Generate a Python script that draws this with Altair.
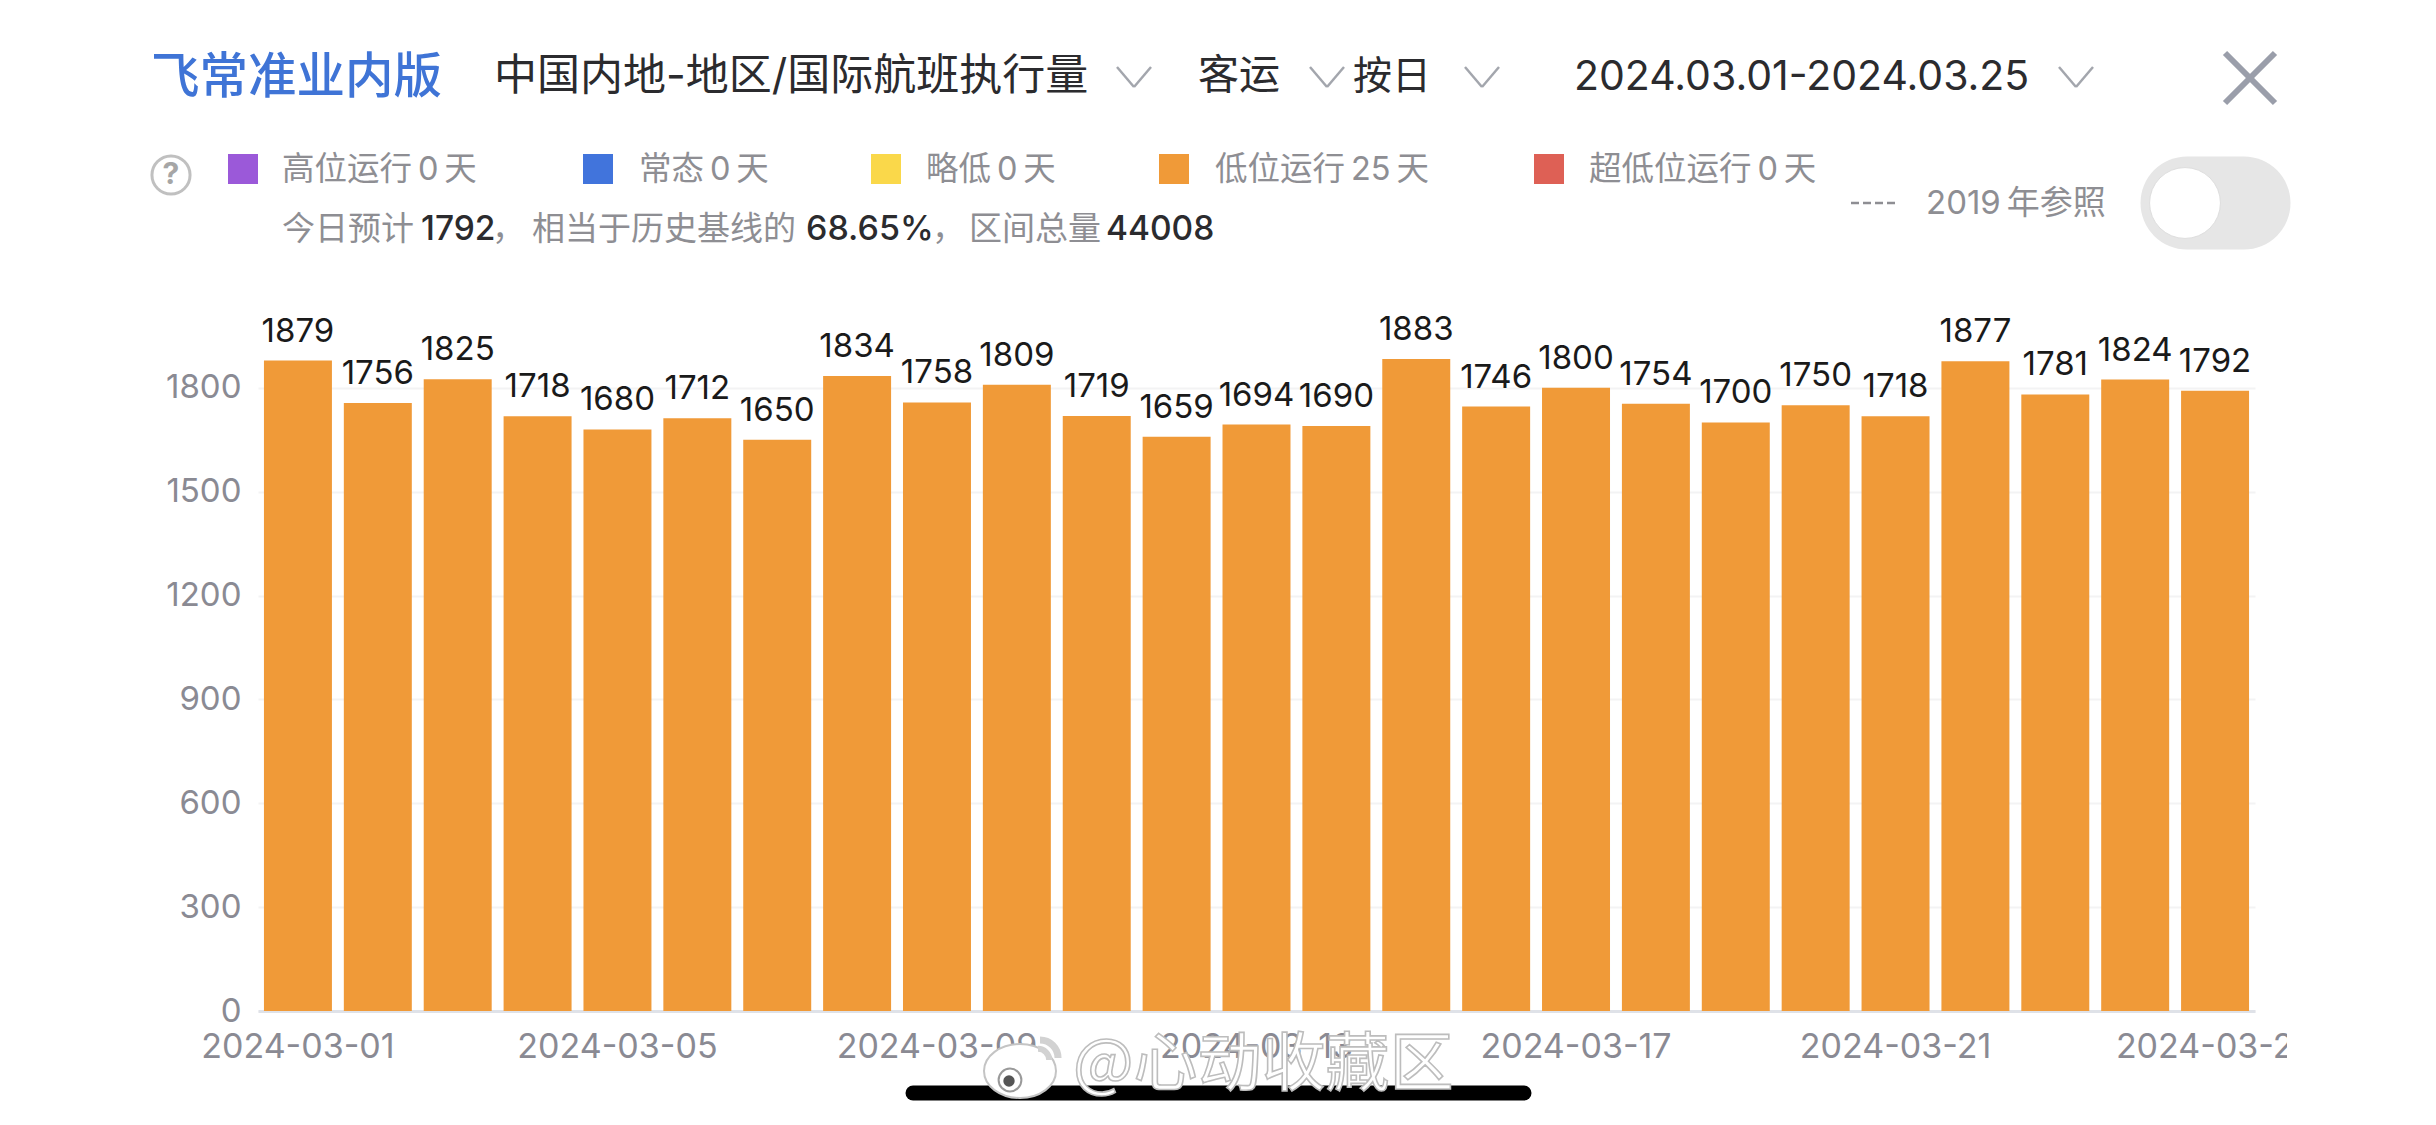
import altair as alt
import pandas as pd

# ---------- data ----------
dates = ["2024-03-%02d" % d for d in range(1, 26)]
flights = [1879, 1756, 1825, 1718, 1680, 1712, 1650, 1834, 1758, 1809, 1719, 1659, 1694,
           1690, 1883, 1746, 1800, 1754, 1700, 1750, 1718, 1877, 1781, 1824, 1792]
y_ticks = [0, 300, 600, 900, 1200, 1500, 1800]
x_ticks = ["2024-03-01", "2024-03-05", "2024-03-09", "2024-03-13", "2024-03-17", "2024-03-21", "2024-03-25"]
legend_names = ["高位运行\u20090\u2009天", "常态\u20090\u2009天", "略低\u20090\u2009天", "低位运行\u200925\u2009天", "超低位运行\u20090\u2009天"]
legend_colors = ["#9b59d9", "#4174dc", "#fad84a", "#f09a38", "#de6055"]
legend_box_x = [228, 583, 871, 1159, 1534]
legend_text_x = [282, 639, 926, 1215, 1589]

LEFT, TOP, W, H = 258, 284, 1997, 727
FONT = "Inter, Noto Sans CJK SC"
CJK = "Noto Sans CJK SC"
GREY = "#8e8e93"
DARK = "#2b2b2e"
one = alt.Data(values=[{"k": 1}])


def px(v):
    return alt.value(v - LEFT)


def py(v):
    return alt.value(v - TOP)


def label(text, x, y, size, color, font=FONT, **kw):
    return alt.Chart(one).mark_text(text=text, fontSize=size, color=color, font=font,
                                    align=kw.pop("align", "left"), baseline="middle", **kw
                                    ).encode(x=px(x), y=py(y))


def seg(x1, y1, x2, y2, color, width, **kw):
    return alt.Chart(one).mark_rule(color=color, strokeWidth=width, **kw).encode(
        x=px(x1), x2=px(x2), y=py(y1), y2=py(y2))


def dot(x, y, size, shape="circle", **kw):
    return alt.Chart(one).mark_point(shape=shape, size=size, **kw).encode(x=px(x), y=py(y))


df = pd.DataFrame({"date": dates, "flights": flights})

x_enc = alt.X("date:N", sort=dates, title=None,
              scale=alt.Scale(paddingInner=0.149, paddingOuter=0.0745),
              axis=alt.Axis(values=x_ticks, labelAngle=0, labelFontSize=34, labelFont=FONT,
                            labelColor="#8a8a93", labelPadding=19, ticks=False, labelLimit=400,
                            domainColor="#dfe2e8", domainWidth=3, grid=False, labelOverlap=False))
y_enc = alt.Y("flights:Q", title=None, scale=alt.Scale(domain=[0, 2100], nice=False),
              axis=alt.Axis(values=y_ticks, format="d", labelFontSize=33, labelFont=FONT, labelColor="#8a8a93",
                            labelPadding=17, ticks=False, domain=False, grid=True,
                            gridColor="#f3f3f4", gridWidth=2))

bars = alt.Chart(df).mark_bar(color="#f09a38").encode(x=x_enc, y=y_enc)
bar_text = alt.Chart(df).mark_text(baseline="bottom", dy=-12, fontSize=33, font=FONT, color="#1a1a1a").encode(
    x=alt.X("date:N", sort=dates), y=alt.Y("flights:Q"), text=alt.Text("flights:Q", format="d"))

layers = [bars, bar_text]

# hide the end of the last date label, as the page cuts it off
layers.append(alt.Chart(one).mark_rect(color="white").encode(x=px(2287), x2=px(2340), y=py(1020), y2=py(1070)))

# header
layers += [
    label("飞常准业内版", 151, 78, 48.5, "#3f74d6", font=CJK, fontWeight=500),
    label("中国内地-地区/国际航班执行量", 494, 77, 43, DARK),
    label("客运", 1198, 77, 41, DARK),
    label("按日", 1353, 77, 39, DARK),
    label("2024.03.01-2024.03.25", 1574, 78, 41, DARK),
]
for cx in [1134, 1327, 1482, 2076]:
    layers += [seg(cx - 17, 67, cx, 87, "#a3a6ad", 2.5), seg(cx, 87, cx + 17, 67, "#a3a6ad", 2.5)]
layers += [seg(2225, 53, 2275, 103, "#9a9eaa", 6), seg(2275, 53, 2225, 103, "#9a9eaa", 6)]

# legend row
layers += [dot(171, 175, 1452, filled=False, stroke="#a6a6a6", strokeWidth=3),
           label("?", 171, 175, 30, "#a6a6a6", align="center", fontWeight="bold")]
for name, color, bx, tx in zip(legend_names, legend_colors, legend_box_x, legend_text_x):
    layers.append(alt.Chart(one).mark_rect(color=color).encode(x=px(bx), x2=px(bx + 30), y=py(154), y2=py(184)))
    layers.append(label(name, tx, 170, 32.5, GREY))

# summary row
layers += [
    label("今日预计", 282, 230, 33, GREY),
    label("1792", 421, 230, 33.5, DARK, fontWeight=500),
    label("，", 492, 230, 33, GREY),
    label("相当于历史基线的", 532, 230, 33, GREY),
    label("68.65%", 806, 230, 34, DARK, fontWeight=500),
    label("，", 932, 230, 33, GREY),
    label("区间总量", 969, 230, 33, GREY),
    label("44008", 1106, 230, 33.5, DARK, fontWeight=500),
]

# 2019 reference + toggle
layers += [
    seg(1851, 203, 1895, 203, "#8e8e93", 2.5, strokeDash=[8, 4]),
    label("2019\u2009年参照", 1926, 204, 33, GREY),
    seg(2187, 203, 2244, 203, "#e6e6e6", 93, strokeCap="round"),
    dot(2185, 203, 5027, filled=True, fill="white", stroke="#dedede", strokeWidth=1, opacity=1),
]

# phone home bar
layers.append(seg(913, 1093, 1524, 1093, "black", 15, strokeCap="round"))

# watermark
BODY = "M -1 0 A 1 0.75 0 1 1 1 0 A 1 0.75 0 1 1 -1 0 Z"
ARC1 = "M 0 -1 A 1 1 0 0 1 1 0"
layers += [
    dot(1020, 1071, 5184, shape=BODY, filled=True, fill="white", stroke="#c4c4c4", strokeWidth=2, opacity=1),
    dot(1010, 1080, 520, filled=True, fill="#ffffff", stroke="#9a9a9a", strokeWidth=2, opacity=1),
    dot(1009, 1081, 130, filled=True, fill="#555555", opacity=1),
    dot(1040, 1058, 1300, shape=ARC1, filled=False, stroke="#d2d2d2", strokeWidth=7, opacity=1),
    dot(1038, 1060, 500, shape=ARC1, filled=False, stroke="#d2d2d2", strokeWidth=6, opacity=1),
    alt.Chart(one).mark_text(text="@心动收藏区", fontSize=64, font=CJK, align="left", baseline="middle",
                             fill="white", stroke="#bdbdbd", strokeWidth=1.6).encode(x=px(1073), y=py(1066)),
]

chart = alt.layer(*layers).properties(
    width=W, height=H,
    padding={"left": LEFT - 8, "top": TOP - 8, "right": 2420 - (LEFT - 8) - W, "bottom": 1109 - (TOP - 8) - H},
    autosize=alt.AutoSizeParams(type="none"),
    background="white",
).configure_view(stroke=None)

chart.save("out.html", embed_options={"renderer": "svg", "actions": False})
